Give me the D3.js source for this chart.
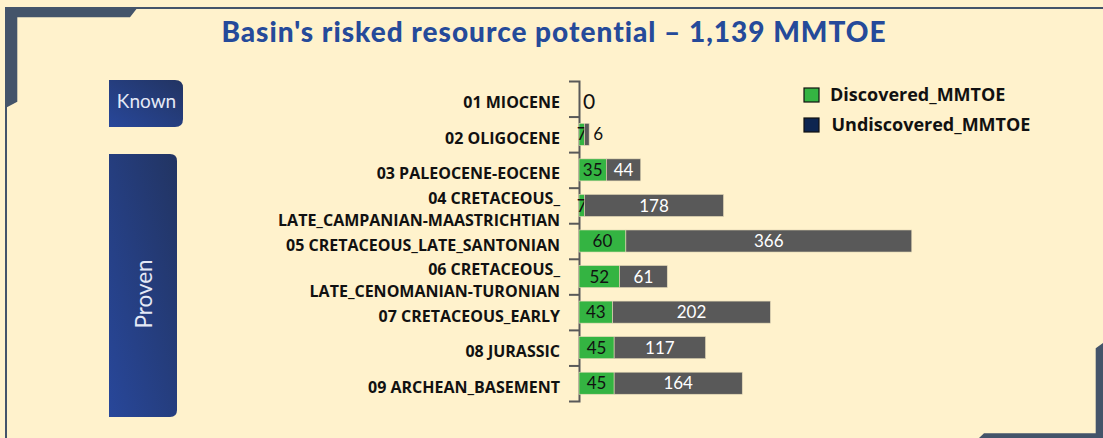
<!DOCTYPE html>
<html>
<head>
<meta charset="utf-8">
<script src="https://cdn.jsdelivr.net/npm/d3@7"></script>
<style>
  html, body { margin: 0; padding: 0; background: #fff2cc; }
  svg { display: block; }
</style>
</head>
<body>
<svg id="chart" width="1103" height="438"></svg>
<script>
// Play intervals, stratigraphic order from top
const categories = [
  "01 MIOCENE",
  "02 OLIGOCENE",
  "03 PALEOCENE-EOCENE",
  "04 CRETACEOUS_ LATE_CAMPANIAN-MAASTRICHTIAN",
  "05 CRETACEOUS_LATE_SANTONIAN",
  "06 CRETACEOUS_ LATE_CENOMANIAN-TURONIAN",
  "07 CRETACEOUS_EARLY",
  "08 JURASSIC",
  "09 ARCHEAN_BASEMENT"
];
// Lines of each category label as printed
const categoryLines = [
  ["01 MIOCENE"],
  ["02 OLIGOCENE"],
  ["03 PALEOCENE-EOCENE"],
  ["04 CRETACEOUS_", "LATE_CAMPANIAN-MAASTRICHTIAN"],
  ["05 CRETACEOUS_LATE_SANTONIAN"],
  ["06 CRETACEOUS_", "LATE_CENOMANIAN-TURONIAN"],
  ["07 CRETACEOUS_EARLY"],
  ["08 JURASSIC"],
  ["09 ARCHEAN_BASEMENT"]
];
// Risked resources, MMTOE
const discovered   = [null, 7, 35, 7, 60, 52, 43, 45, 45];
const undiscovered = [0, 6, 44, 178, 366, 61, 202, 117, 164];
const seriesNames  = ["Discovered_MMTOE", "Undiscovered_MMTOE"];
const title = "Basin's risked resource potential \u2013 1,139 MMTOE";

const svg = d3.select("#chart");
const W = 1103, H = 438;
const FRAME = "#44546a";

// Background
svg.append("rect").attr("width", W).attr("height", H).attr("fill", "#fff2cc");

// Frame: thin rules plus heavy corner brackets
svg.append("line").attr("x1", 5).attr("x2", W).attr("y1", 8).attr("y2", 8)
  .attr("stroke", FRAME).attr("stroke-width", 2);
svg.append("line").attr("x1", 6).attr("x2", 6).attr("y1", 7).attr("y2", H)
  .attr("stroke", FRAME).attr("stroke-width", 2);
svg.append("polygon")
  .attr("points", "5,7 138,7 130,17.3 17.3,17.3 17.3,101.7 5,108.3")
  .attr("fill", FRAME);
svg.append("polygon")
  .attr("points", "1103,343 1095.7,348.3 1095.7,433.3 984,433.3 979,438 1103,438")
  .attr("fill", FRAME);

// Title
svg.append("text")
  .attr("x", 554).attr("y", 42)
  .attr("text-anchor", "middle")
  .attr("font-family", "Lato, sans-serif")
  .attr("font-weight", 900)
  .attr("font-size", 28)
  .attr("letter-spacing", 1)
  .attr("fill", "#254a9a")
  .text(title);

// Side group boxes
const defs = svg.append("defs");
const grad = defs.append("linearGradient").attr("id", "boxGrad")
  .attr("x1", "0%").attr("y1", "100%").attr("x2", "100%").attr("y2", "0%");
grad.append("stop").attr("offset", "0%").attr("stop-color", "#28479a");
grad.append("stop").attr("offset", "100%").attr("stop-color", "#223462");

function sideBox(x, y, w, h, r) {
  // square on the left, rounded on the right
  return `M${x},${y} H${x + w - r} Q${x + w},${y} ${x + w},${y + r} V${y + h - r} Q${x + w},${y + h} ${x + w - r},${y + h} H${x} Z`;
}
svg.append("path").attr("d", sideBox(109, 80, 74, 47, 8)).attr("fill", "url(#boxGrad)");
svg.append("text").attr("x", 146.5).attr("y", 108)
  .attr("text-anchor", "middle")
  .attr("font-family", "Lato, sans-serif").attr("font-size", 19)
  .attr("fill", "#e4e9f6").text("Known");

svg.append("path").attr("d", sideBox(109, 154, 68, 263, 7)).attr("fill", "url(#boxGrad)");
svg.append("text")
  .attr("transform", "translate(152,294) rotate(-90)")
  .attr("text-anchor", "middle")
  .attr("font-family", "Lato, sans-serif").attr("font-size", 22.5)
  .attr("fill", "#e4e9f6").text("Proven");

// Scales
const y = d3.scaleBand().domain(categories).range([81, 401]).paddingInner(0.38).paddingOuter(0.19);
const slot = d3.scaleLinear().domain([0, categories.length]).range([81, 401]);
const x = d3.scaleLinear().domain([0, 450]).range([579, 930.5]);

// Category axis with tick marks between categories
const axis = svg.append("g").attr("transform", "translate(579,0)")
  .call(d3.axisLeft(slot)
    .tickValues(d3.range(1, categories.length))
    .tickSize(10).tickSizeOuter(10).tickFormat(""));
axis.selectAll("path, line").attr("stroke", "#595959").attr("stroke-width", 2);

// Category labels
const lineGap = 22;
const lab = svg.append("g")
  .attr("font-family", "'Open Sans', sans-serif").attr("font-weight", 700)
  .attr("font-size", 16).attr("fill", "#111").attr("text-anchor", "end");
categories.forEach((c, i) => {
  const lines = categoryLines[i];
  const cy = y(c) + y.bandwidth() / 2 + 4;
  lines.forEach((ln, j) => {
    lab.append("text")
      .attr("x", 560)
      .attr("y", cy + (j - (lines.length - 1) / 2) * lineGap)
      .attr("dy", "0.35em")
      .text(ln);
  });
});

// Stacked bars
const rows = categories.map((c, i) => ({ c, d: discovered[i], u: undiscovered[i] }));
const colors = ["#34b442", "#595959"];
const bars = svg.append("g");
rows.forEach(r => {
  const d0 = r.d || 0;
  const segs = [
    { key: 0, v: r.d, x0: 0, x1: d0 },
    { key: 1, v: r.u, x0: d0, x1: d0 + (r.u || 0) }
  ];
  segs.forEach(s => {
    if (s.v === null || s.v === undefined) return;
    const w = x(s.x1) - x(s.x0);
    if (w > 0) {
      bars.append("rect")
        .attr("x", x(s.x0)).attr("y", y(r.c))
        .attr("width", w).attr("height", y.bandwidth())
        .attr("fill", colors[s.key])
        .attr("stroke", "#e6dbb8").attr("stroke-width", 0.6);
    }
    const label = bars.append("text")
      .attr("y", y(r.c) + y.bandwidth() / 2)
      .attr("dy", "0.36em")
      .attr("font-family", "Lato, sans-serif")
      .attr("font-size", s.v === 0 ? 21 : 17)
      .text(d3.format(",")(s.v));
    const tw = label.node().getComputedTextLength();
    if (s.key === 1 && w < tw + 2) {
      label.attr("x", x(s.x1) + 4).attr("text-anchor", "start").attr("fill", "#111");
      if (s.v === 0) label.attr("dy", "0.5em");
    } else {
      label.attr("x", (x(s.x0) + x(s.x1)) / 2).attr("text-anchor", "middle")
        .attr("fill", s.key === 0 ? "#111" : "#ffffff");
    }
  });
});

// Legend
const legend = svg.append("g").attr("font-family", "'Open Sans', sans-serif")
  .attr("font-weight", 700).attr("font-size", 18).attr("fill", "#111");
const legendColors = ["#34b442", "#0d2550"];
seriesNames.forEach((n, i) => {
  const ly = 95 + i * 30;
  legend.append("rect").attr("x", 804).attr("y", ly - 7).attr("width", 15).attr("height", 14)
    .attr("fill", legendColors[i]).attr("stroke", "#111").attr("stroke-width", 1.2);
  legend.append("text").attr("x", 830 + i * 1.5).attr("y", ly).attr("dy", "0.36em").text(n);
});
</script>
</body>
</html>
